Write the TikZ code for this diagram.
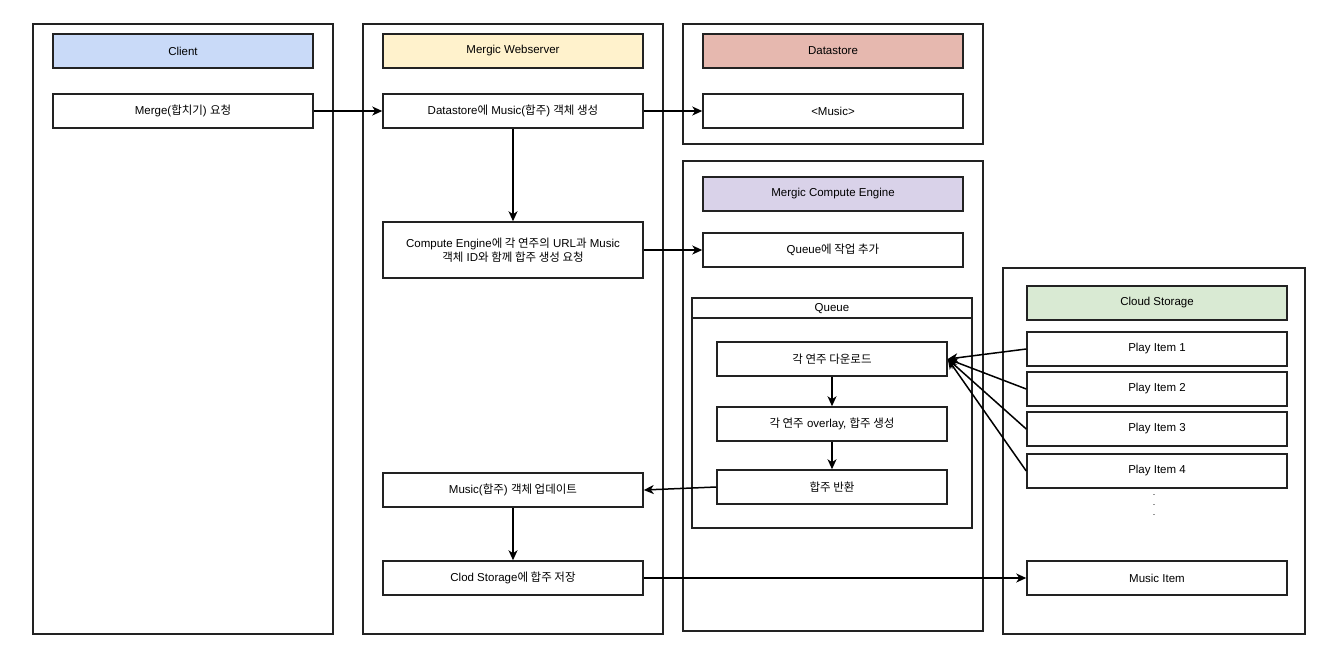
\documentclass[tikz,border=0pt]{standalone}
\usepackage{fontspec}
\setmainfont{Liberation Sans}
\newfontfamily\krfont{Noto Sans CJK KR}[Scale=1.0]
\newcommand{\kr}[1]{{\krfont #1}}
\usepackage{tikz}
\usetikzlibrary{arrows.meta}

\definecolor{clientblue}{HTML}{C9DAF8}
\definecolor{webyellow}{HTML}{FFF2CC}
\definecolor{datared}{HTML}{E6B8AF}
\definecolor{enginepurple}{HTML}{D9D2E9}
\definecolor{cloudgreen}{HTML}{D9EAD3}
\definecolor{edgegray}{HTML}{222222}

\tikzset{
  lane/.style={draw=edgegray, line width=1.5pt, minimum width=300pt},
  head/.style={draw=edgegray, line width=1.5pt, minimum width=260pt, minimum height=34pt},
  box/.style={draw=edgegray, line width=1.5pt, fill=white, minimum width=260pt, minimum height=34pt, align=center},
  qbox/.style={box, minimum width=230pt},
  flow/.style={-{Stealth[length=10pt,width=9pt,inset=3pt]}, line width=1.5pt, draw=black}
}

\begin{document}
\begin{tikzpicture}[x=1pt, y=-1pt, every node/.style={font=\fontsize{11.5}{14}\selectfont, inner sep=0pt}]
\useasboundingbox (0,0) rectangle (1341,654);

% lanes
\node[lane, minimum height=610pt] (clientlane) at (183,329) {};
\node[lane, minimum height=610pt] (weblane) at (513,329) {};
\node[lane, minimum height=120pt] (datalane) at (833,84) {};
\node[lane, minimum height=470pt] (enginelane) at (833,396) {};
\node[lane, minimum width=302pt, minimum height=366pt] (cloudlane) at (1154,451) {};

% lane titles
\node[head, fill=clientblue] (clienthead) at (183,51) {Client};
\node[head, fill=webyellow] (webhead) at (513,51) {Mergic Webserver};
\node[head, fill=datared] (datahead) at (833,51) {Datastore};
\node[head, fill=enginepurple] (enginehead) at (833,194) {Mergic Compute Engine};
\node[head, fill=cloudgreen] (cloudhead) at (1157,303) {Cloud Storage};

% client
\node[box] (merge) at (183,111) {Merge(\kr{합치기}) \kr{요청}};

% webserver
\node[box] (create) at (513,111) {Datastore\kr{에} Music(\kr{합주}) \kr{객체 생성}};
\node[box, minimum height=56pt] (request) at (513,250) {Compute Engine\kr{에 각 연주의} URL\kr{과} Music\\\kr{객체} ID\kr{와 함께 합주 생성 요청}};
\node[box] (update) at (513,490) {Music(\kr{합주}) \kr{객체 업데이트}};
\node[box] (save) at (513,578) {Clod Storage\kr{에 합주 저장}};

% datastore
\node[box] (musicobj) at (833,111) {<Music>};

% compute engine
\node[box] (enqueue) at (833,250) {Queue\kr{에 작업 추가}};
\node[draw=edgegray, line width=1.5pt, minimum width=280pt, minimum height=230pt] (queue) at (832,413) {};
\draw[edgegray, line width=1.5pt] (692,318) -- (972,318);
\node (queuetitle) at (832,308.5) {Queue};
\node[qbox] (download) at (832,359) {\kr{각 연주 다운로드}};
\node[qbox] (overlay) at (832,424) {\kr{각 연주} overlay, \kr{합주 생성}};
\node[qbox] (giveback) at (832,487) {\kr{합주 반환}};

% cloud storage
\node[box] (play1) at (1157,349) {Play Item 1};
\node[box] (play2) at (1157,389) {Play Item 2};
\node[box] (play3) at (1157,429) {Play Item 3};
\node[box] (play4) at (1157,471) {Play Item 4};
\node[align=center, font=\fontsize{9}{10}\selectfont] (dots) at (1154,505) {.\\.\\.};
\node[box] (musicitem) at (1157,578) {Music Item};

% connectors
\draw[flow] (merge) -- (create);
\draw[flow] (create) -- (musicobj);
\draw[flow] (create) -- (request);
\draw[flow] (request) -- (enqueue);
\draw[flow] (download) -- (overlay);
\draw[flow] (overlay) -- (giveback);
\draw[flow] (giveback.west) -- (update.east);
\draw[flow] (update) -- (save);
\draw[flow] (save) -- (musicitem);
\foreach \p in {play1,play2,play3,play4}
  \draw[flow] (\p.west) -- (download.east);
\end{tikzpicture}
\end{document}
